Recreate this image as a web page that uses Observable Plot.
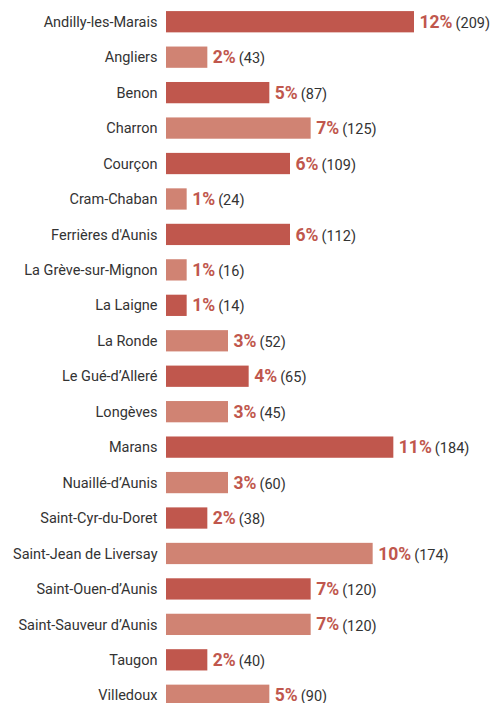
<!DOCTYPE html>
<html>
<head>
<meta charset="utf-8">
<script src="https://cdn.jsdelivr.net/npm/d3@7"></script>
<script src="https://cdn.jsdelivr.net/npm/@observablehq/plot@0.6"></script>
<style>
  html, body { margin: 0; padding: 0; background: #fff; }
  #chart { width: 492px; }
  svg { font-family: Roboto, "Noto Sans", sans-serif; overflow: visible; }
</style>
</head>
<body>
<div id="chart"></div>
<script>
const communes = [
  "Andilly-les-Marais", "Angliers", "Benon", "Charron", "Courçon", "Cram-Chaban",
  "Ferrières d'Aunis", "La Grève-sur-Mignon", "La Laigne", "La Ronde", "Le Gué-d’Alleré",
  "Longèves", "Marans", "Nuaillé-d’Aunis", "Saint-Cyr-du-Doret", "Saint-Jean de Liversay",
  "Saint-Ouen-d’Aunis", "Saint-Sauveur d’Aunis", "Taugon", "Villedoux"
];
const percents = [12, 2, 5, 7, 6, 1, 6, 1, 1, 3, 4, 3, 11, 3, 2, 10, 7, 7, 2, 5];
const counts = [209, 43, 87, 125, 109, 24, 112, 16, 14, 52, 65, 45, 184, 60, 38, 174, 120, 120, 40, 90];
const palette = ["#c0574d", "#d08373"];

const data = communes.map((c, i) => ({
  commune: c, pct: percents[i], count: counts[i], shade: i % 2 === 0 ? "a" : "b"
}));

const plot = Plot.plot({
  width: 492,
  height: 713,
  marginLeft: 166,
  marginRight: 78,
  marginTop: 4,
  marginBottom: 0,
  x: { domain: [0, 12], axis: null },
  y: { domain: communes, paddingInner: 0.4, paddingOuter: 0.2, round: false, label: null },
  color: { domain: ["a", "b"], range: palette },
  marks: [
    Plot.barX(data, { y: "commune", x: "pct", fill: "shade" }),
    Plot.axisY({ tickSize: 0, tickPadding: 9, fontSize: 14.5, color: "#333", label: null }),
    Plot.text(data, {
      y: "commune", x: "pct", text: d => d.pct + "%", textAnchor: "start", dx: 5,
      fill: palette[0], fontSize: 17.5, fontWeight: "bold", className: "pctlab"
    }),
    Plot.text(data, {
      y: "commune", x: "pct", text: d => "(" + d.count + ")", textAnchor: "start", dx: 5,
      fill: "#333", fontSize: 14.5, className: "cntlab"
    })
  ]
});
document.getElementById("chart").appendChild(plot);

// Shift each count label to sit right after its percent label
const pctNodes = plot.querySelectorAll(".pctlab text");
const cntNodes = plot.querySelectorAll(".cntlab text");
pctNodes.forEach((p, i) => {
  const w = p.getComputedTextLength();
  const c = cntNodes[i];
  const cur = c.getAttribute("transform") || "";
  c.setAttribute("transform", cur + ` translate(${w + 3},1)`);
});
</script>
</body>
</html>
